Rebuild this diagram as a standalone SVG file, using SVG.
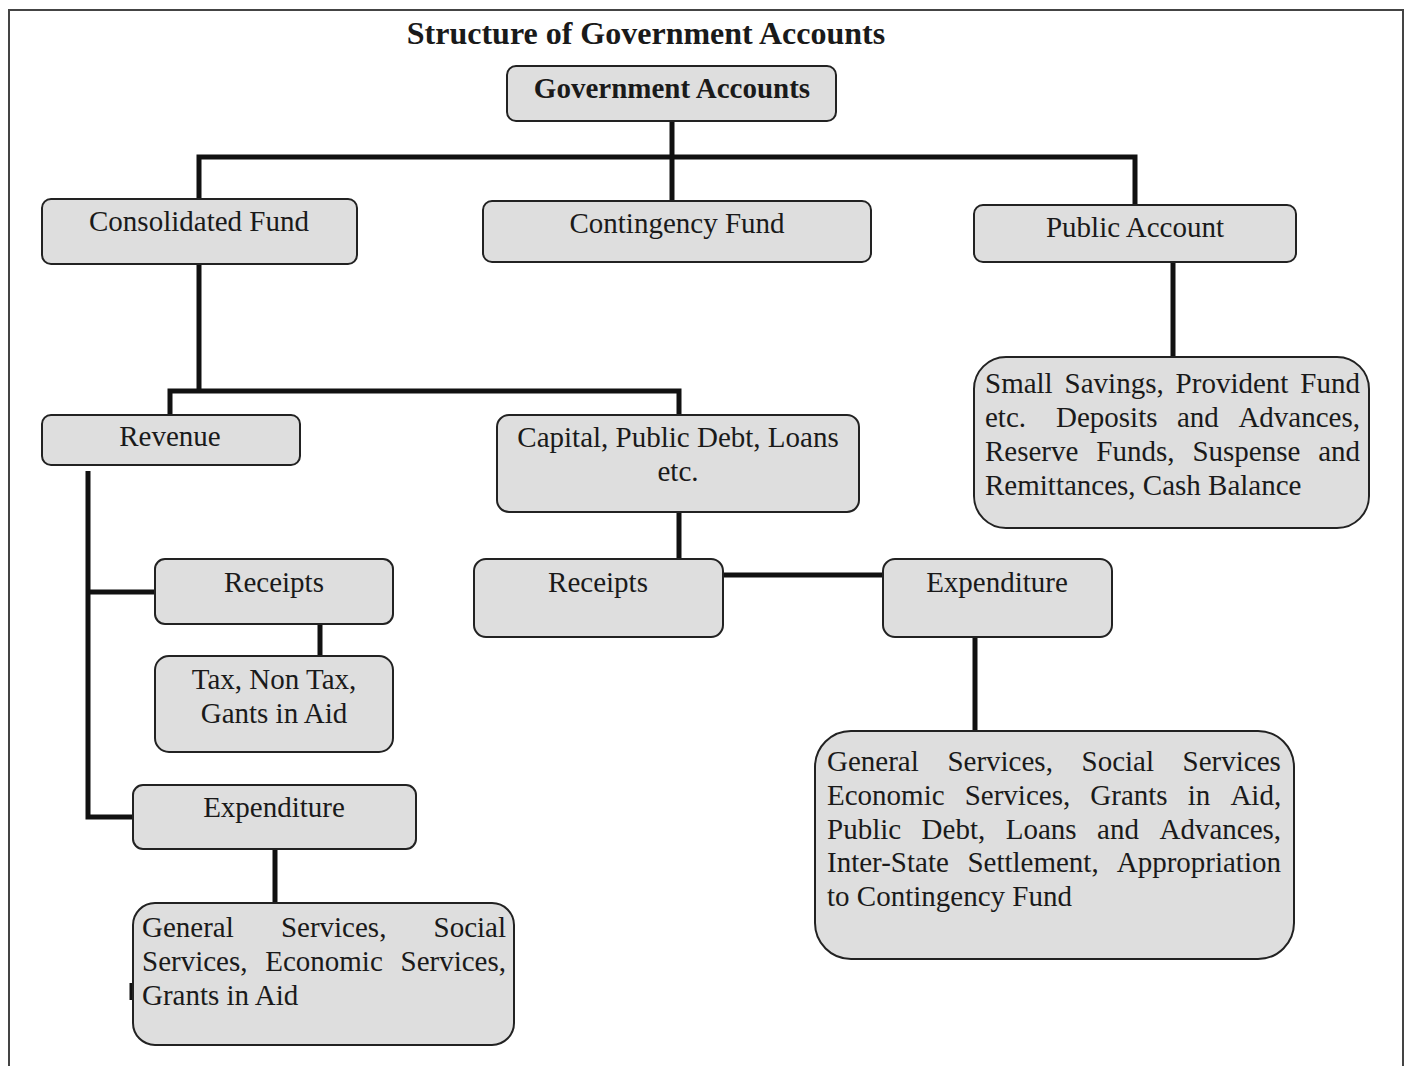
<svg xmlns="http://www.w3.org/2000/svg" width="1407" height="1066" viewBox="0 0 1407 1066">
<style>
.box{fill:#dedede;stroke:#222;stroke-width:2}
.t{font-family:"Liberation Serif","Times New Roman",serif;font-size:29px;fill:#1a1a1a}
.c{text-anchor:middle}
.b{font-weight:bold}
.conn{fill:none;stroke:#111;stroke-width:5;stroke-linejoin:miter}
</style>
<rect width="1407" height="1066" fill="#fff"/>
<path d="M9,1070 V10 H1403 V1070" fill="none" stroke="#444" stroke-width="2"/>
<text class="t c b" x="646" y="44" font-size="32" style="font-size:32px">Structure of Government Accounts</text>

<g id="connectors">
<path class="conn" d="M672,121 V201"/>
<path class="conn" d="M199,200 V157 H1135 V205"/>
<path class="conn" d="M1173,262 V357"/>
<path class="conn" d="M199,264 V391"/>
<path class="conn" d="M170,415 V391 H679 V415"/>
<path class="conn" d="M679,512 V559"/>
<path class="conn" d="M723,575 H883"/>
<path class="conn" d="M975,637 V731"/>
<path class="conn" d="M88,471 V817 H133"/>
<path class="conn" d="M88,592 H155"/>
<path class="conn" d="M320,624 V656"/>
<path class="conn" d="M275,849 V903"/>
<path d="M131,983 V1000" stroke="#111" stroke-width="3"/>
</g>

<g id="government-accounts">
<rect class="box" x="507" y="66" width="329" height="55" rx="9"/>
<text class="t c b" x="672" y="98">Government Accounts</text>
</g>

<g id="consolidated-fund">
<rect class="box" x="42" y="199" width="315" height="65" rx="9"/>
<text class="t c" x="199" y="231">Consolidated Fund</text>
</g>

<g id="contingency-fund">
<rect class="box" x="483" y="201" width="388" height="61" rx="9"/>
<text class="t c" x="677" y="233">Contingency Fund</text>
</g>

<g id="public-account">
<rect class="box" x="974" y="205" width="322" height="57" rx="9"/>
<text class="t c" x="1135" y="237">Public Account</text>
</g>

<g id="public-account-items">
<rect class="box" x="974" y="357" width="395" height="171" rx="32"/>
<text class="t" y="393"><tspan x="985">Small</tspan><tspan x="1064.6">Savings,</tspan><tspan x="1175.6">Provident</tspan><tspan x="1300.3">Fund</tspan></text>
<text class="t" y="427"><tspan x="985">etc.</tspan><tspan x="1056">Deposits</tspan><tspan x="1177">and</tspan><tspan x="1238.4">Advances,</tspan></text>
<text class="t" y="461"><tspan x="985">Reserve</tspan><tspan x="1096.3">Funds,</tspan><tspan x="1192.4">Suspense</tspan><tspan x="1318.2">and</tspan></text>
<text class="t" x="985" y="495">Remittances, Cash Balance</text>
</g>

<g id="revenue">
<rect class="box" x="42" y="415" width="258" height="50" rx="9"/>
<text class="t c" x="170" y="446">Revenue</text>
</g>

<g id="capital">
<rect class="box" x="497" y="415" width="362" height="97" rx="12"/>
<text class="t c" x="678" y="447">Capital, Public Debt, Loans</text>
<text class="t c" x="678" y="481">etc.</text>
</g>

<g id="capital-receipts">
<rect class="box" x="474" y="559" width="249" height="78" rx="12"/>
<text class="t c" x="598" y="592">Receipts</text>
</g>

<g id="capital-expenditure">
<rect class="box" x="883" y="559" width="229" height="78" rx="12"/>
<text class="t c" x="997" y="592">Expenditure</text>
</g>

<g id="capital-expenditure-items">
<rect class="box" x="815" y="731" width="479" height="228" rx="36"/>
<text class="t" y="771"><tspan x="827">General</tspan><tspan x="947.4">Services,</tspan><tspan x="1081.5">Social</tspan><tspan x="1182.6">Services</tspan></text>
<text class="t" y="805"><tspan x="827">Economic</tspan><tspan x="964.7">Services,</tspan><tspan x="1090.3">Grants</tspan><tspan x="1187.7">in</tspan><tspan x="1230.4">Aid,</tspan></text>
<text class="t" y="839"><tspan x="827">Public</tspan><tspan x="921.6">Debt,</tspan><tspan x="1005.7">Loans</tspan><tspan x="1097.1">and</tspan><tspan x="1159.5">Advances,</tspan></text>
<text class="t" y="872"><tspan x="827">Inter-State</tspan><tspan x="967.4">Settlement,</tspan><tspan x="1116.7">Appropriation</tspan></text>
<text class="t" x="827" y="906">to Contingency Fund</text>
</g>

<g id="revenue-receipts">
<rect class="box" x="155" y="559" width="238" height="65" rx="10"/>
<text class="t c" x="274" y="592">Receipts</text>
</g>

<g id="revenue-receipts-items">
<rect class="box" x="155" y="656" width="238" height="96" rx="14"/>
<text class="t c" x="274" y="689">Tax, Non Tax,</text>
<text class="t c" x="274" y="723">Gants in Aid</text>
</g>

<g id="revenue-expenditure">
<rect class="box" x="133" y="785" width="283" height="64" rx="10"/>
<text class="t c" x="274" y="817">Expenditure</text>
</g>

<g id="revenue-expenditure-items">
<rect class="box" x="133" y="903" width="381" height="142" rx="22"/>
<text class="t" y="937"><tspan x="142">General</tspan><tspan x="280.9">Services,</tspan><tspan x="433.5">Social</tspan></text>
<text class="t" y="971"><tspan x="142">Services,</tspan><tspan x="265.2">Economic</tspan><tspan x="400.5">Services,</tspan></text>
<text class="t" x="142" y="1005">Grants in Aid</text>
</g>
</svg>
